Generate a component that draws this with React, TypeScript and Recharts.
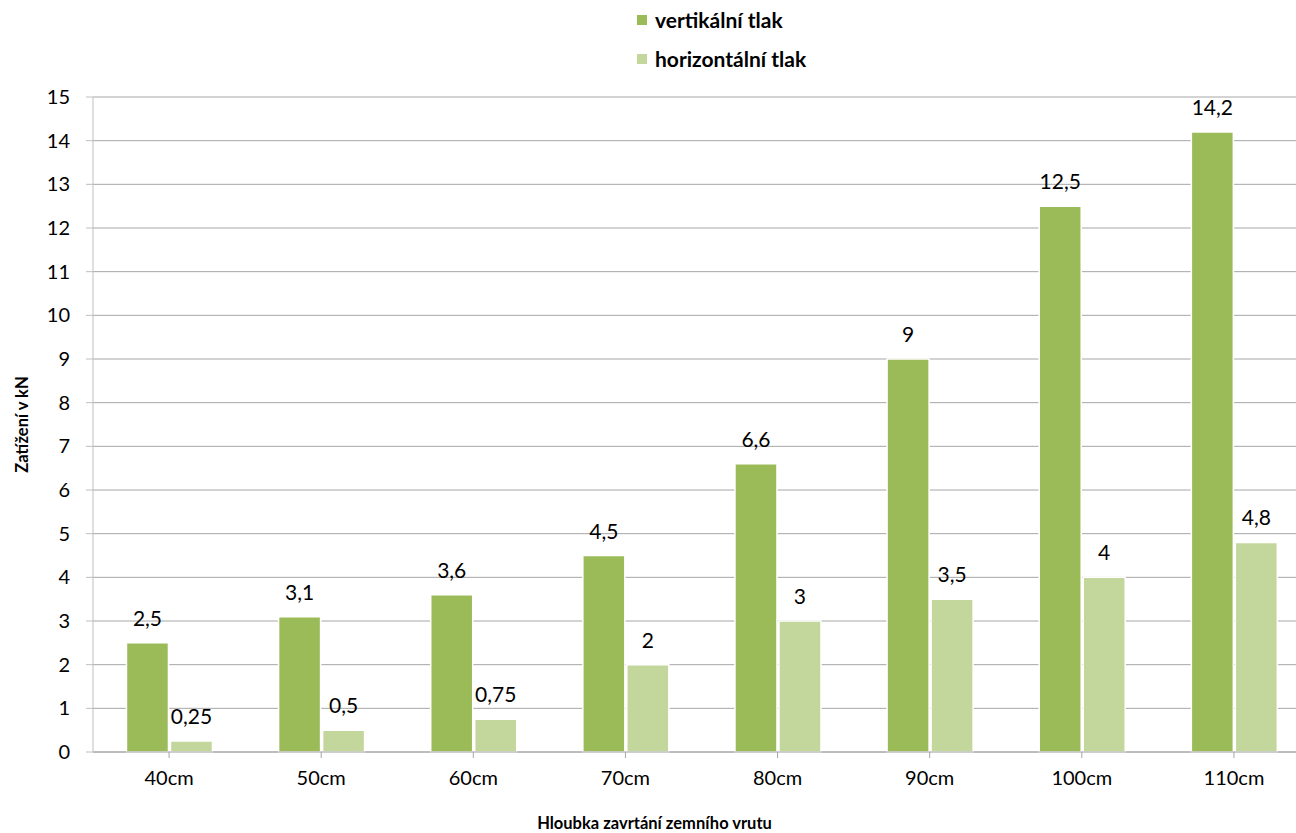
import React from 'react';
import {
    BarChart,
    Bar,
    XAxis,
    YAxis,
    CartesianGrid,
    LabelList,
    Label,
} from 'recharts';

// Hloubka zavrtání (categories)
const depths = ['40cm', '50cm', '60cm', '70cm', '80cm', '90cm', '100cm', '110cm'];
// Zatížení v kN
const verticalLoad = [2.5, 3.1, 3.6, 4.5, 6.6, 9, 12.5, 14.2];
const horizontalLoad = [0.25, 0.5, 0.75, 2, 3, 3.5, 4, 4.8];
const yTicks = [0, 1, 2, 3, 4, 5, 6, 7, 8, 9, 10, 11, 12, 13, 14, 15];

const series = [
    { key: 'vertical', name: 'vertikální tlak', color: '#9BBB59' },
    { key: 'horizontal', name: 'horizontální tlak', color: '#C3D69B' },
];

const data = depths.map((d, i) => ({
    name: d,
    vertical: verticalLoad[i],
    horizontal: horizontalLoad[i],
}));

const FONT = 'Lato, "Open Sans", sans-serif';

const czech = (v: any) => String(v).replace('.', ',');

// legend drawn outside the chart so it doesn't eat plot space
const LegendBox = () => (
    <div
        style={{
            position: 'absolute',
            left: 637,
            top: 0,
            fontFamily: FONT,
            fontWeight: 700,
            fontSize: 21,
            color: '#000',
        }}
    >
        {series.map((s) => (
            <div key={s.key} style={{ display: 'flex', alignItems: 'center', height: 39 }}>
                <span
                    style={{ width: 10, height: 10, background: s.color, display: 'inline-block', marginRight: 8 }}
                />
                {s.name}
            </div>
        ))}
    </div>
);

export default function App() {
    return (
        <div
            style={{
                position: 'fixed',
                left: 0,
                top: 0,
                width: 1296,
                height: 833,
                overflow: 'hidden',
                background: '#fff',
            }}
        >
            <BarChart
                width={1320}
                height={833}
                data={data}
                margin={{ top: 97, right: 10, bottom: 0, left: 0 }}
                barCategoryGap="22%"
                barGap={2}
                style={{ fontFamily: FONT }}
            >
                <CartesianGrid vertical={false} stroke="#A6A6A6" strokeWidth={1} />
                <XAxis
                    dataKey="name"
                    height={81}
                    stroke="#A6A6A6"
                    tickSize={6}
                    tickMargin={13}
                    tick={{ fill: '#000', fontSize: 20, fontFamily: FONT }}
                >
                    <Label
                        value="Hloubka zavrtání zemního vrutu"
                        position="insideBottom"
                        offset={4}
                        dx={-47}
                        style={{ fill: '#000', fontSize: 16.5, fontWeight: 700, fontFamily: FONT }}
                    />
                </XAxis>
                <YAxis
                    width={93}
                    domain={[0, 15]}
                    ticks={yTicks}
                    interval={0}
                    stroke="#BFBFBF"
                    tickSize={7}
                    tickMargin={16}
                    tick={{ fill: '#000', fontSize: 20, fontFamily: FONT }}
                >
                    <Label
                        value="Zatížení v kN"
                        angle={-90}
                        position="insideLeft"
                        offset={22}
                        style={{ textAnchor: 'middle', fill: '#000', fontSize: 16.5, fontWeight: 700, fontFamily: FONT }}
                    />
                </YAxis>
                {series.map((s) => (
                    <Bar
                        key={s.key}
                        dataKey={s.key}
                        name={s.name}
                        fill={s.color}
                        stroke="#FFFFFF"
                        strokeWidth={1.5}
                        isAnimationActive={false}
                    >
                        <LabelList
                            dataKey={s.key}
                            position="top"
                            offset={17}
                            formatter={czech}
                            style={{ fill: '#000', fontSize: 21, fontFamily: FONT }}
                        />
                    </Bar>
                ))}
            </BarChart>
            <LegendBox />
        </div>
    );
}
